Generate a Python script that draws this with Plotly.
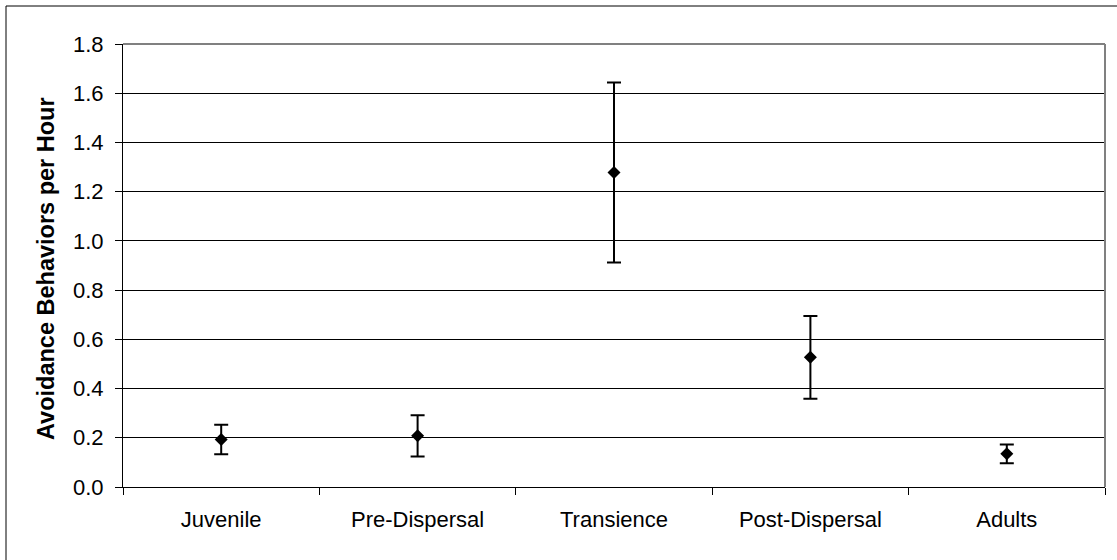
import plotly.graph_objects as go

categories = ["Juvenile", "Pre-Dispersal", "Transience", "Post-Dispersal", "Adults"]
means = [0.193, 0.208, 1.278, 0.527, 0.135]
errors = [0.060, 0.084, 0.366, 0.168, 0.038]
y_ticks = [0.0, 0.2, 0.4, 0.6, 0.8, 1.0, 1.2, 1.4, 1.6, 1.8]
y_title = "Avoidance Behaviors per Hour"

W, H = 1117, 560
L, R, T, B = 123, 12, 44, 73
pw, ph = W - L - R, H - T - B

fig = go.Figure()
fig.add_trace(go.Scatter(
    x=categories, y=means, mode="markers",
    marker=dict(symbol="diamond", size=10, color="black"),
    error_y=dict(type="data", array=errors, visible=True,
                 color="black", thickness=2, width=7),
    showlegend=False, hoverinfo="skip",
))

font = dict(family="Liberation Sans, Arial, sans-serif", size=22, color="black")

fig.update_layout(
    width=W, height=H,
    margin=dict(l=L, r=R, t=T, b=B, pad=0),
    paper_bgcolor="white", plot_bgcolor="white",
    font=font,
    xaxis=dict(
        type="category", categoryorder="array", categoryarray=categories,
        range=[-0.5, 4.5], showgrid=False, zeroline=False,
        showline=True, linecolor="black", linewidth=1,
        ticks="outside", tickson="boundaries", ticklen=7,
        tickcolor="black", tickwidth=1, ticklabelstandoff=13,
        tickfont=font,
    ),
    yaxis=dict(
        range=[0, 1.8], tickvals=y_ticks,
        ticktext=[f"{v:.1f}" for v in y_ticks],
        showgrid=True, gridcolor="black", gridwidth=1,
        zeroline=False, showline=True, linecolor="black", linewidth=1,
        ticks="outside", ticklen=7, tickcolor="black", tickwidth=1,
        ticklabelstandoff=7, tickfont=font,
    ),
    shapes=[
        dict(type="line", xref="paper", yref="paper", x0=0, x1=1, y0=1, y1=1,
             line=dict(color="#808080", width=2)),
        dict(type="line", xref="paper", yref="paper", x0=1, x1=1, y0=0, y1=1,
             line=dict(color="#808080", width=2)),
        dict(type="rect", xref="paper", yref="paper",
             x0=(6 - L) / pw, x1=(1130 - L) / pw,
             y0=-(580 - (H - B)) / ph, y1=((H - B) - 6) / ph,
             line=dict(color="black", width=1), layer="below"),
    ],
    annotations=[
        dict(text=f"<b>{y_title}</b>", xref="paper", yref="paper",
             x=(46 - L) / pw, y=((H - B) - 269) / ph,
             xanchor="center", yanchor="middle", textangle=-90,
             showarrow=False,
             font=dict(family="Liberation Sans, Arial, sans-serif", size=23.5, color="black")),
    ],
)

fig.write_html("out.html", config={"displayModeBar": False},
               post_script="document.body.style.margin='0';")
